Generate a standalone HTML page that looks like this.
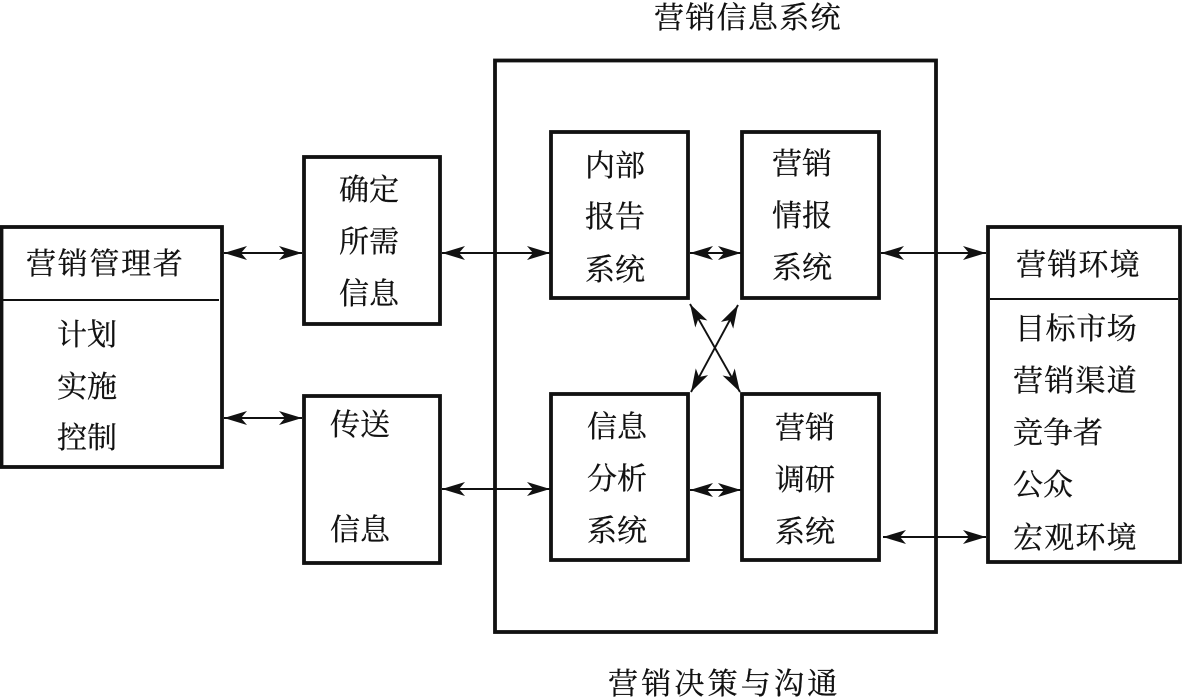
<!DOCTYPE html>
<html><head><meta charset="utf-8"><style>
html,body{margin:0;padding:0;background:#fff}
svg{display:block}
text{font-family:"Liberation Serif","Noto Serif CJK SC",serif;font-size:30px;fill:#111;stroke:#111;stroke-width:.3}
rect,.l{fill:none;stroke:#111;stroke-width:3.8}
.a{stroke:#111;stroke-width:1.9;fill:none}
</style></head><body>
<svg width="1182" height="697" viewBox="0 0 1182 697" xmlns="http://www.w3.org/2000/svg">
<defs>
<marker id="h" markerUnits="userSpaceOnUse" markerWidth="26" markerHeight="18" refX="23" refY="8" orient="auto-start-reverse">
<path d="M23 8 L0 1 L6 8 L0 15 Z" fill="#111" stroke="none"/>
</marker>
</defs>
<rect x="495" y="60.5" width="441" height="571.5"/>
<rect x="1.5" y="227" width="220.5" height="240"/>
<line class="l" style="stroke-width:2" x1="3" y1="300" x2="219" y2="300"/>
<rect x="304" y="157" width="136" height="167"/>
<rect x="304" y="396" width="136" height="167"/>
<rect x="551" y="132" width="137" height="166"/>
<rect x="742" y="132" width="137" height="166"/>
<rect x="551" y="394" width="137" height="166"/>
<rect x="742" y="394" width="137" height="166"/>
<rect x="988" y="227" width="192" height="335"/>
<line class="l" style="stroke-width:2" x1="990" y1="299" x2="1178" y2="299"/>

<g class="a">
<line x1="224" y1="253" x2="302" y2="253" marker-start="url(#h)" marker-end="url(#h)"/>
<line x1="224" y1="418" x2="302" y2="418" marker-start="url(#h)" marker-end="url(#h)"/>
<line x1="442" y1="253" x2="550" y2="253" marker-start="url(#h)" marker-end="url(#h)"/>
<line x1="442" y1="489" x2="550" y2="489" marker-start="url(#h)" marker-end="url(#h)"/>
<line x1="690" y1="253" x2="741" y2="253" marker-start="url(#h)" marker-end="url(#h)"/>
<line x1="690" y1="490" x2="741" y2="490" marker-start="url(#h)" marker-end="url(#h)"/>
<line x1="881" y1="253" x2="986" y2="253" marker-start="url(#h)" marker-end="url(#h)"/>
<line x1="883" y1="537" x2="986" y2="537" marker-start="url(#h)" marker-end="url(#h)"/>
<line x1="690" y1="304" x2="740" y2="392" marker-start="url(#h)" marker-end="url(#h)"/>
<line x1="738" y1="305" x2="691" y2="392" marker-start="url(#h)" marker-end="url(#h)"/>
</g>

<text x="654" y="28" letter-spacing="1.3">营销信息系统</text>
<text x="608" y="694" letter-spacing="3.2">营销决策与沟通</text>

<text x="26" y="274" letter-spacing="1.7">营销管理者</text>
<text x="57" y="345">计划</text>
<text x="57" y="397">实施</text>
<text x="57" y="448">控制</text>

<text x="339" y="200">确定</text>
<text x="339" y="252">所需</text>
<text x="339" y="304">信息</text>

<text x="330" y="435">传送</text>
<text x="330" y="540">信息</text>

<text x="585" y="176">内部</text>
<text x="585" y="227">报告</text>
<text x="585" y="280">系统</text>

<text x="772" y="174">营销</text>
<text x="772" y="226">情报</text>
<text x="772" y="278">系统</text>

<text x="587" y="437">信息</text>
<text x="587" y="489">分析</text>
<text x="587" y="541">系统</text>

<text x="775" y="438">营销</text>
<text x="775" y="490">调研</text>
<text x="775" y="542">系统</text>

<text x="1016" y="275" letter-spacing="1.2">营销环境</text>
<text x="1015" y="339" letter-spacing=".6">目标市场</text>
<text x="1013" y="391" letter-spacing="1.2">营销渠道</text>
<text x="1013" y="443">竞争者</text>
<text x="1013" y="495">公众</text>
<text x="1013" y="548" letter-spacing="1.2">宏观环境</text>
</svg>
</body></html>
